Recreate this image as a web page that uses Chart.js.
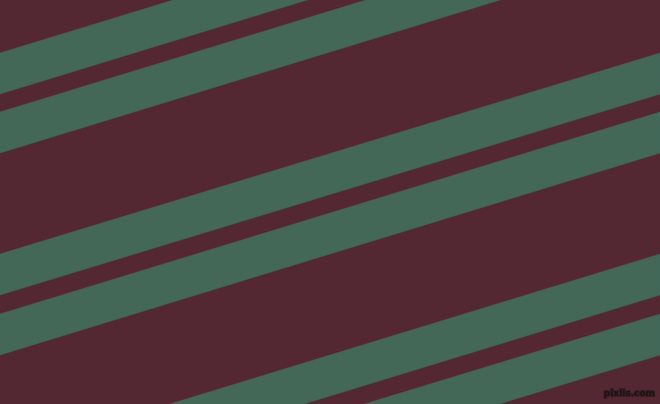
<!DOCTYPE html>
<html>
<head>
<meta charset="utf-8">
<script src="https://cdn.jsdelivr.net/npm/chart.js@4.4.1/dist/chart.umd.min.js"></script>
<style>
  html, body { margin: 0; padding: 0; background: #532832; }
  #wrap { width: 660px; height: 404px; }
</style>
</head>
<body>
<div id="wrap"><canvas id="stripes" width="660" height="404"></canvas></div>
<script>
// band edges, at the left (x=0) and right (x=660) borders
var edgeX = [0, 660];
var topLeft = [53, 112, 254, 314, 456, 515];
var bottomLeft = [94, 153, 295, 355, 497, 556];
var topRight = [-149, -90, 53, 112, 254, 314];
var bottomRight = [-108, -49, 94, 153, 295, 355];

var green = '#436858';
var maroon = '#532832';

var datasets = topLeft.map(function (t, i) {
    return {
        data: [
            {x: edgeX[0], y: t},
            {x: edgeX[1], y: topRight[i]},
            {x: edgeX[1], y: bottomRight[i]},
            {x: edgeX[0], y: bottomLeft[i]}
        ],
        showLine: true,
        fill: 'shape',
        backgroundColor: green,
        borderColor: green,
        borderWidth: 0.5,
        pointRadius: 0,
        tension: 0
    };
});

var watermark = {
    id: 'watermark',
    beforeDraw: function (chart) {
        var ctx = chart.ctx;
        ctx.save();
        ctx.fillStyle = maroon;
        ctx.fillRect(0, 0, chart.width, chart.height);
        ctx.restore();
    },
    afterDraw: function (chart) {
        var ctx = chart.ctx;
        ctx.save();
        ctx.font = 'bold 9px "DejaVu Sans"';
        ctx.textAlign = 'right';
        ctx.textBaseline = 'alphabetic';
        ctx.lineWidth = 2;
        ctx.strokeStyle = '#3a1e25';
        ctx.strokeText('pixlis.com', 655, 396);
        ctx.fillStyle = '#1e1215';
        ctx.fillText('pixlis.com', 655, 396);
        ctx.restore();
    }
};

var ctx = document.getElementById('stripes').getContext('2d');
window.stripes = new Chart(ctx, {
    type: 'scatter',
    data: {datasets: datasets},
    plugins: [watermark],
    options: {
        responsive: false,
        animation: false,
        devicePixelRatio: 1,
        layout: {padding: 0},
        scales: {
            x: {type: 'linear', min: 0, max: 660, display: false},
            y: {type: 'linear', min: 0, max: 404, reverse: true, display: false}
        },
        plugins: {
            legend: {display: false},
            tooltip: {enabled: false},
            title: {display: false}
        }
    }
});
</script>
</body>
</html>
